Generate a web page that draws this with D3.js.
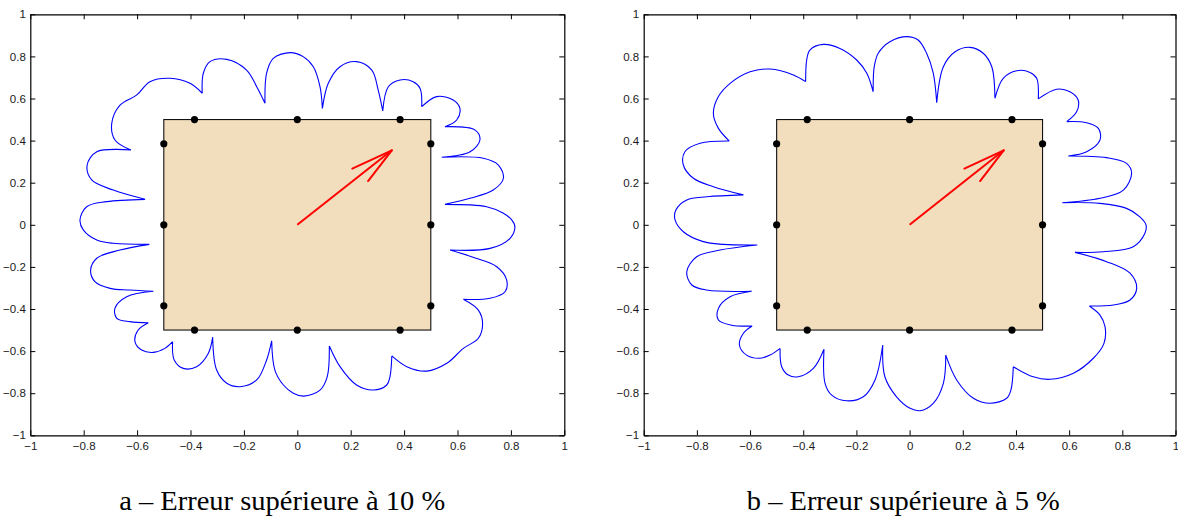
<!DOCTYPE html>
<html>
<head>
<meta charset="utf-8">
<script src="https://cdn.jsdelivr.net/npm/d3@7"></script>
<style>
  html, body { margin: 0; padding: 0; background: #fff; }
  svg { display: block; }
</style>
</head>
<body>
<svg id="chart" width="1178" height="517"></svg>
<script>
// ---------------- data ----------------
const tickValues = [-1, -0.8, -0.6, -0.4, -0.2, 0, 0.2, 0.4, 0.6, 0.8, 1];
const tickLabels = ["−1", "−0.8", "−0.6", "−0.4", "−0.2", "0", "0.2", "0.4", "0.6", "0.8", "1"];
const captions = ["a – Erreur supérieure à 10 %", "b – Erreur supérieure à 5 %"];

// the square domain
const squareCorners = [[-0.5, -0.5], [0.5, 0.5]];

// black nodes on the square boundary
const nodesX = [-0.5, -0.5, -0.5, -0.385, 0, 0.385, 0.5, 0.5, 0.5, 0.385, 0, -0.385];
const nodesY = [0.385, 0, -0.385, -0.5, -0.5, -0.5, -0.385, 0, 0.385, 0.5, 0.5, 0.5];

// red arrow: shaft tail, tip, and the two barb ends
const arrowTail = [0, 0];
const arrowTip = [0.354, 0.354];
const arrowBarbs = [[0.206, 0.267], [0.265, 0.208]];

// blue scalloped curve, panel a (10 %): lobes from cusp to cusp
const lobesA = [
  [[-0.554,-0.093],[-0.664,-0.120],[-0.751,-0.159],[-0.774,-0.215],[-0.758,-0.270],[-0.701,-0.302],[-0.627,-0.310],[-0.539,-0.316]],
  [[-0.539,-0.316],[-0.639,-0.342],[-0.683,-0.397],[-0.676,-0.444],[-0.627,-0.460],[-0.558,-0.465]],
  [[-0.558,-0.465],[-0.596,-0.500],[-0.608,-0.555],[-0.583,-0.595],[-0.539,-0.606],[-0.496,-0.587],[-0.467,-0.555]],
  [[-0.467,-0.555],[-0.461,-0.642],[-0.427,-0.682],[-0.377,-0.674],[-0.333,-0.610],[-0.317,-0.534]],
  [[-0.317,-0.534],[-0.302,-0.690],[-0.264,-0.753],[-0.215,-0.769],[-0.152,-0.737],[-0.115,-0.642],[-0.096,-0.551]],
  [[-0.096,-0.551],[-0.084,-0.690],[-0.052,-0.761],[-0.015,-0.800],[0.025,-0.814],[0.085,-0.785],[0.112,-0.722],[0.120,-0.576]],
  [[0.120,-0.576],[0.160,-0.674],[0.222,-0.761],[0.285,-0.785],[0.335,-0.761],[0.347,-0.722],[0.354,-0.623]],
  [[0.354,-0.623],[0.410,-0.674],[0.485,-0.695],[0.560,-0.658],[0.622,-0.587],[0.678,-0.539],[0.694,-0.468],[0.678,-0.405],[0.622,-0.354]],
  [[0.622,-0.354],[0.722,-0.349],[0.778,-0.318],[0.784,-0.262],[0.747,-0.199],[0.653,-0.152],[0.572,-0.120]],
  [[0.572,-0.120],[0.722,-0.112],[0.797,-0.064],[0.815,-0.009],[0.803,0.023],[0.772,0.055],[0.709,0.086],[0.553,0.097]],
  [[0.553,0.097],[0.647,0.126],[0.734,0.165],[0.772,0.221],[0.753,0.284],[0.697,0.316],[0.541,0.321]],
  [[0.541,0.321],[0.647,0.347],[0.684,0.403],[0.666,0.450],[0.553,0.466]],
  [[0.553,0.466],[0.597,0.498],[0.609,0.553],[0.584,0.593],[0.522,0.609],[0.466,0.561]],
  [[0.466,0.561],[0.460,0.648],[0.434,0.680],[0.385,0.688],[0.341,0.656],[0.320,0.541]],
  [[0.320,0.541],[0.303,0.640],[0.279,0.735],[0.222,0.775],[0.160,0.751],[0.116,0.672],[0.094,0.553]],
  [[0.094,0.553],[0.085,0.656],[0.060,0.751],[0.022,0.799],[-0.027,0.818],[-0.090,0.791],[-0.115,0.720],[-0.121,0.577]],
  [[-0.121,0.577],[-0.152,0.656],[-0.190,0.735],[-0.264,0.786],[-0.327,0.775],[-0.352,0.720],[-0.356,0.625]],
  [[-0.356,0.625],[-0.402,0.672],[-0.477,0.696],[-0.552,0.680],[-0.601,0.617],[-0.664,0.569],[-0.695,0.482],[-0.683,0.403],[-0.623,0.355]],
  [[-0.623,0.355],[-0.751,0.347],[-0.787,0.284],[-0.770,0.213],[-0.689,0.165],[-0.570,0.121]],
  [[-0.570,0.121],[-0.714,0.110],[-0.789,0.086],[-0.814,0.023],[-0.801,-0.025],[-0.751,-0.072],[-0.689,-0.088],[-0.554,-0.093]]
];

// blue scalloped curve, panel b (5 %)
const lobesB = [
  [[-0.573,-0.096],[-0.713,-0.120],[-0.801,-0.152],[-0.838,-0.223],[-0.819,-0.286],[-0.763,-0.310],[-0.594,-0.316]],
  [[-0.594,-0.316],[-0.675,-0.342],[-0.719,-0.397],[-0.719,-0.452],[-0.669,-0.477],[-0.592,-0.481]],
  [[-0.592,-0.481],[-0.625,-0.515],[-0.640,-0.571],[-0.613,-0.619],[-0.563,-0.634],[-0.525,-0.619],[-0.487,-0.587]],
  [[-0.487,-0.587],[-0.481,-0.674],[-0.456,-0.714],[-0.419,-0.722],[-0.362,-0.682],[-0.322,-0.591]],
  [[-0.322,-0.591],[-0.318,-0.753],[-0.293,-0.809],[-0.237,-0.836],[-0.174,-0.817],[-0.130,-0.737],[-0.101,-0.571]],
  [[-0.101,-0.571],[-0.093,-0.722],[-0.049,-0.817],[0.002,-0.872],[0.039,-0.883],[0.089,-0.848],[0.127,-0.753],[0.136,-0.619]],
  [[0.136,-0.619],[0.177,-0.737],[0.240,-0.824],[0.302,-0.848],[0.365,-0.824],[0.381,-0.785],[0.390,-0.674]],
  [[0.390,-0.674],[0.465,-0.722],[0.528,-0.734],[0.616,-0.705],[0.691,-0.634],[0.731,-0.563],[0.735,-0.484],[0.716,-0.429],[0.676,-0.386]],
  [[0.676,-0.386],[0.766,-0.381],[0.829,-0.357],[0.854,-0.302],[0.829,-0.230],[0.741,-0.175],[0.622,-0.131]],
  [[0.622,-0.131],[0.728,-0.128],[0.841,-0.104],[0.885,-0.040],[0.889,0.000],[0.866,0.038],[0.816,0.078],[0.716,0.102],[0.574,0.105]],
  [[0.574,0.105],[0.716,0.126],[0.804,0.165],[0.835,0.245],[0.816,0.292],[0.741,0.319],[0.597,0.327]],
  [[0.597,0.327],[0.666,0.347],[0.716,0.403],[0.710,0.458],[0.666,0.485],[0.591,0.490]],
  [[0.591,0.490],[0.628,0.537],[0.634,0.593],[0.603,0.632],[0.553,0.644],[0.484,0.598]],
  [[0.484,0.598],[0.478,0.696],[0.453,0.724],[0.403,0.732],[0.352,0.696],[0.321,0.601]],
  [[0.321,0.601],[0.309,0.751],[0.277,0.815],[0.227,0.843],[0.171,0.822],[0.127,0.751],[0.102,0.580]],
  [[0.102,0.580],[0.089,0.720],[0.064,0.815],[0.032,0.878],[-0.010,0.894],[-0.074,0.870],[-0.118,0.815],[-0.133,0.751],[-0.137,0.632]],
  [[-0.137,0.632],[-0.161,0.720],[-0.199,0.783],[-0.262,0.838],[-0.325,0.857],[-0.375,0.830],[-0.387,0.783],[-0.391,0.680]],
  [[-0.391,0.680],[-0.437,0.712],[-0.525,0.740],[-0.600,0.727],[-0.675,0.672],[-0.719,0.609],[-0.738,0.530],[-0.719,0.458],[-0.678,0.398]],
  [[-0.678,0.398],[-0.788,0.387],[-0.845,0.347],[-0.851,0.284],[-0.813,0.221],[-0.738,0.181],[-0.625,0.142]],
  [[-0.625,0.142],[-0.763,0.133],[-0.838,0.118],[-0.879,0.070],[-0.882,0.023],[-0.851,-0.033],[-0.776,-0.080],[-0.701,-0.093],[-0.573,-0.096]]
];

// ---------------- drawing ----------------
const svg = d3.select("#chart");
const fmt = v => tickLabels[tickValues.indexOf(v)] ?? "";

const panels = [
  { lobes: lobesA, caption: captions[0], xr: [30.3, 564.3], yr: [435.3, 14.3], capX: 282.2, capW: 326 },
  { lobes: lobesB, caption: captions[1], xr: [643.7, 1175.5], yr: [435.3, 14.3], capX: 903.3, capW: 313 }
];

panels.forEach(p => {
  const x = d3.scaleLinear().domain([-1, 1]).range(p.xr);
  const y = d3.scaleLinear().domain([-1, 1]).range(p.yr);
  const g = svg.append("g");

  // square
  g.append("rect")
    .attr("x", x(squareCorners[0][0]))
    .attr("y", y(squareCorners[1][1]))
    .attr("width", x(squareCorners[1][0]) - x(squareCorners[0][0]))
    .attr("height", y(squareCorners[0][1]) - y(squareCorners[1][1]))
    .attr("fill", "#F2DDBD")
    .attr("stroke", "#111")
    .attr("stroke-width", 1.1);

  // blue curve
  const line = d3.line().x(d => x(d[0])).y(d => y(d[1])).curve(d3.curveCatmullRom.alpha(0.5));
  const dStr = p.lobes.map(l => line(l)).join("");
  g.append("path")
    .attr("d", dStr)
    .attr("fill", "none")
    .attr("stroke", "#0000FF")
    .attr("stroke-width", 1.1)
    .attr("stroke-linejoin", "round");

  // red arrow
  const straight = d3.line().x(d => x(d[0])).y(d => y(d[1]));
  g.append("path").attr("d", straight([arrowTail, arrowTip]))
    .attr("fill", "none").attr("stroke", "#FF0000").attr("stroke-width", 2);
  arrowBarbs.forEach(b => {
    g.append("path").attr("d", straight([b, arrowTip]))
      .attr("fill", "none").attr("stroke", "#FF0000").attr("stroke-width", 2)
      .attr("stroke-linecap", "round");
  });

  // nodes
  g.selectAll("circle.node").data(nodesX.map((v, i) => [v, nodesY[i]]))
    .enter().append("circle")
    .attr("class", "node")
    .attr("cx", d => x(d[0])).attr("cy", d => y(d[1]))
    .attr("r", 3.6).attr("fill", "#000");

  // axes (box with inward ticks)
  const styleAxis = sel => {
    sel.selectAll(".domain").attr("stroke", "#000").attr("stroke-width", 1.2);
    sel.selectAll(".tick line").attr("stroke", "#000").attr("stroke-width", 1);
    sel.selectAll("text").attr("fill", "#1a1a1a")
      .style("font-family", "'Liberation Sans', Arial, Helvetica, sans-serif")
      .style("font-size", "11.5px");
  };
  g.append("g").attr("transform", `translate(0,${p.yr[0]})`)
    .call(d3.axisBottom(x).tickValues(tickValues).tickFormat(fmt).tickSize(-5).tickSizeOuter(0).tickPadding(7))
    .call(styleAxis);
  g.append("g").attr("transform", `translate(0,${p.yr[1]})`)
    .call(d3.axisTop(x).tickValues(tickValues).tickFormat("").tickSize(-5).tickSizeOuter(0))
    .call(styleAxis);
  g.append("g").attr("transform", `translate(${p.xr[0]},0)`)
    .call(d3.axisLeft(y).tickValues(tickValues).tickFormat(fmt).tickSize(-5).tickSizeOuter(0).tickPadding(4.5))
    .call(styleAxis);
  g.append("g").attr("transform", `translate(${p.xr[1]},0)`)
    .call(d3.axisRight(y).tickValues(tickValues).tickFormat("").tickSize(-5).tickSizeOuter(0))
    .call(styleAxis);

  // caption
  svg.append("text")
    .attr("x", p.capX).attr("y", 509.5)
    .attr("text-anchor", "middle")
    .attr("textLength", p.capW)
    .attr("lengthAdjust", "spacingAndGlyphs")
    .style("font-family", "'Liberation Serif', 'Times New Roman', serif")
    .style("font-size", "27.5px")
    .attr("fill", "#000")
    .text(p.caption);
});
</script>
</body>
</html>
